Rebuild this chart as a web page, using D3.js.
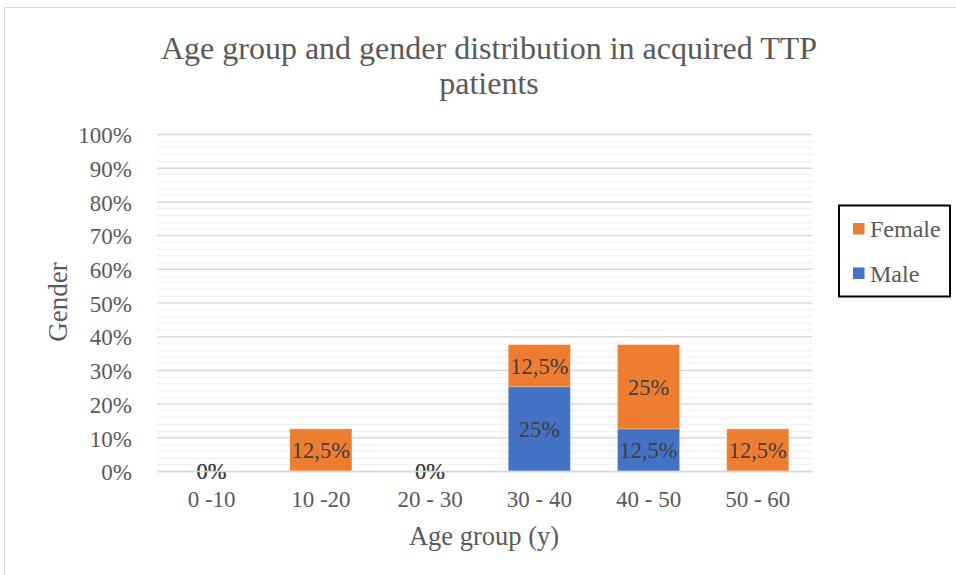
<!DOCTYPE html>
<html><head><meta charset="utf-8">
<script src="https://cdn.jsdelivr.net/npm/d3@7"></script>
<style>body{margin:0;background:#fff}svg{display:block}</style>
</head><body>
<svg id="c" width="956" height="575"></svg>
<script>
const categories = ["0 -10", "10 -20", "20 - 30", "30 - 40", "40 - 50", "50 - 60"];
const maleValues = [0, 0, 0, 25, 12.5, 0];
const femaleValues = [0, 12.5, 0, 12.5, 25, 12.5];
const yTicks = [0, 10, 20, 30, 40, 50, 60, 70, 80, 90, 100];
const seriesNames = ["Male", "Female"];
const legendItems = ["Female", "Male"];
const titleLines = ["Age group and gender distribution in acquired TTP", "patients"];

const svg = d3.select("#c");
const font = "'Liberation Serif','Times New Roman',serif";
const colors = {Male: "#4472C4", Female: "#ED7D31"};

// chart border
svg.append("rect").attr("x", 4.5).attr("y", 7.5).attr("width", 1000).attr("height", 1000)
  .attr("fill", "none").attr("stroke", "#D9D9D9");

const m = {left: 157, right: 812.4, top: 134, bottom: 471};
const x = d3.scaleBand().domain(categories).range([m.left, m.right]).paddingInner(0.432).paddingOuter(0.216);
const y = d3.scaleLinear().domain([0, 100]).range([m.bottom, m.top]);

// minor gridlines
const minor = d3.range(0, 101, 2).filter(v => v % 10 !== 0);
svg.append("g").selectAll("line").data(minor).join("line")
  .attr("x1", m.left).attr("x2", m.right)
  .attr("y1", d => Math.round(y(d)) + 0.5).attr("y2", d => Math.round(y(d)) + 0.5)
  .attr("stroke", "#F2F2F2").attr("stroke-width", 1.5);
// major gridlines via axis
const yAxis = svg.append("g").attr("transform", `translate(${m.left},0)`)
  .call(d3.axisLeft(y).tickValues(yTicks).tickFormat(d => d + "%").tickSize(-(m.right - m.left)).tickPadding(25));
yAxis.select(".domain").remove();
yAxis.selectAll("line").attr("stroke", "#D9D9D9").attr("stroke-width", 1.5);
yAxis.selectAll("text").attr("font-family", font).attr("font-size", 23).attr("fill", "#595959").attr("dy", "0.38em");

// stacked bars
const rows = categories.map((c, i) => ({cat: c, Male: maleValues[i], Female: femaleValues[i]}));
const stack = d3.stack().keys(seriesNames)(rows);
svg.append("g").selectAll("g").data(stack).join("g")
  .attr("fill", d => colors[d.key])
  .selectAll("rect").data(d => d).join("rect")
  .attr("x", d => x(d.data.cat)).attr("width", x.bandwidth())
  .attr("y", d => y(d[1])).attr("height", d => y(d[0]) - y(d[1]))
  .attr("stroke", "#fff").attr("stroke-opacity", 0.3).attr("stroke-width", 0.8);

// data labels
const fmt = v => String(v).replace(".", ",") + "%";
const labels = [];
stack.forEach(s => s.forEach(d => {
  const v = d[1] - d[0];
  const total = d.data.Male + d.data.Female;
  if (v > 0 || total === 0) labels.push({cat: d.data.cat, v, mid: (d[0] + d[1]) / 2});
}));
svg.append("g").selectAll("text").data(labels).join("text")
  .attr("x", d => x(d.cat) + x.bandwidth() / 2)
  .attr("y", d => y(d.mid))
  .attr("dy", "0.35em").attr("text-anchor", "middle")
  .attr("font-family", font).attr("font-size", 22.5).attr("fill", "#404040")
  .text(d => fmt(d.v));

// x axis
const xAxis = svg.append("g").attr("transform", `translate(0,${m.bottom})`)
  .call(d3.axisBottom(x).tickSize(0).tickPadding(0));
xAxis.select(".domain").attr("stroke", "#D9D9D9").attr("stroke-width", 1.5)
  .attr("d", `M${m.left},0.5H${m.right}`);
xAxis.selectAll("text").attr("font-family", font).attr("font-size", 23).attr("fill", "#595959")
  .attr("y", 36).attr("dy", null);

// title
svg.append("text").attr("text-anchor", "middle")
  .attr("font-family", font).attr("font-size", 32).attr("fill", "#595959")
  .selectAll("tspan").data(titleLines).join("tspan")
  .attr("x", 489).attr("y", (d, i) => 59 + i * 35).text(d => d);

// axis titles
svg.append("text").attr("transform", "translate(67,302) rotate(-90)").attr("text-anchor", "middle")
  .attr("font-family", font).attr("font-size", 27).attr("fill", "#595959").text("Gender");
svg.append("text").attr("x", 484).attr("y", 545).attr("text-anchor", "middle")
  .attr("font-family", font).attr("font-size", 26.5).attr("fill", "#595959").text("Age group (y)");

// legend
const lg = svg.append("g");
lg.append("rect").attr("x", 839).attr("y", 205.5).attr("width", 111).attr("height", 91)
  .attr("fill", "#fff").attr("stroke", "#000").attr("stroke-width", 2);
const li = lg.selectAll("g.it").data(legendItems).join("g").attr("class", "it")
  .attr("transform", (d, i) => `translate(853,${223 + i * 44.5})`);
li.append("rect").attr("x", 0).attr("y", 0).attr("width", 11.5).attr("height", 11.5).attr("fill", d => colors[d]);
li.append("text").attr("x", 17).attr("y", 14)
  .attr("font-family", font).attr("font-size", 24).attr("fill", "#595959").text(d => d);
</script>
</body></html>
